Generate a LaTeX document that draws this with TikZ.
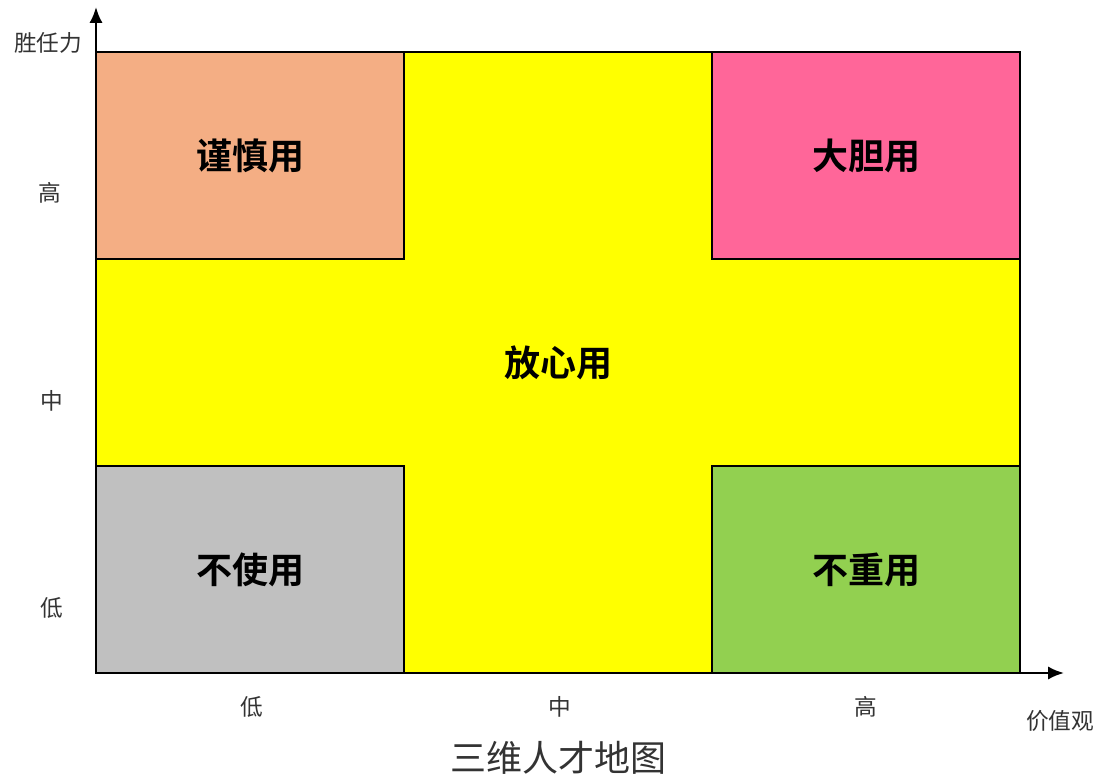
\documentclass[tikz,border=0pt]{standalone}
\usepackage{fontspec}
\usetikzlibrary{arrows.meta}
\newfontfamily\cjk{Noto Sans CJK SC}[BoldFont={Noto Sans CJK SC Bold}]
\definecolor{cOrange}{HTML}{F4AE84}
\definecolor{cPink}{HTML}{FF6699}
\definecolor{cYellow}{HTML}{FFFF00}
\definecolor{cGray}{HTML}{C0C0C0}
\definecolor{cGreen}{HTML}{92D050}
\definecolor{cLabel}{HTML}{333333}
\begin{document}
\begin{tikzpicture}[x=0.75pt,y=-0.75pt,
  cell/.style={draw=black,line width=1.1pt,inner sep=0pt,outer sep=0pt,font=\cjk\bfseries\fontsize{27}{30}\selectfont},
  axislbl/.style={font=\cjk\fontsize{17}{19}\selectfont,text=cLabel},
  axis/.style={draw=black,line width=1.9pt,-{Latex[length=12pt,width=10pt]}}]
\useasboundingbox (0,0) rectangle (1103,780);
% yellow cross background
\node[cell,fill=cYellow,minimum width=693pt,minimum height=465.75pt] (mid) at (558,362.5) {放心用};
% corner cells
\node[cell,fill=cOrange,minimum width=231pt,minimum height=155.25pt] (tl) at (250,155.5) {谨慎用};
\node[cell,fill=cPink,minimum width=231pt,minimum height=155.25pt] (tr) at (866,155.5) {大胆用};
\node[cell,fill=cGray,minimum width=231pt,minimum height=155.25pt] (bl) at (250,569.5) {不使用};
\node[cell,fill=cGreen,minimum width=231pt,minimum height=155.25pt] (br) at (866,569.5) {不重用};
% axes
\coordinate (o) at (96,673);
\coordinate (ytip) at (96,7);
\coordinate (xtip) at (1064,673);
\draw[axis] (o) -- (ytip);
\draw[axis] (o) -- (xtip);
% labels
\node[axislbl] (ytitle) at (48,43) {胜任力};
\node[axislbl] (yh) at (50,193) {高};
\node[axislbl] (ym) at (52,401) {中};
\node[axislbl] (yl) at (52,608) {低};
\node[axislbl] (xl) at (252,707) {低};
\node[axislbl] (xm) at (560,707) {中};
\node[axislbl] (xh) at (866,707) {高};
\node[axislbl] (xtitle) at (1060,721) {价值观};
\node[font=\cjk\fontsize{27}{30}\selectfont,text=cLabel] (title) at (558,758) {三维人才地图};
\end{tikzpicture}
\end{document}
